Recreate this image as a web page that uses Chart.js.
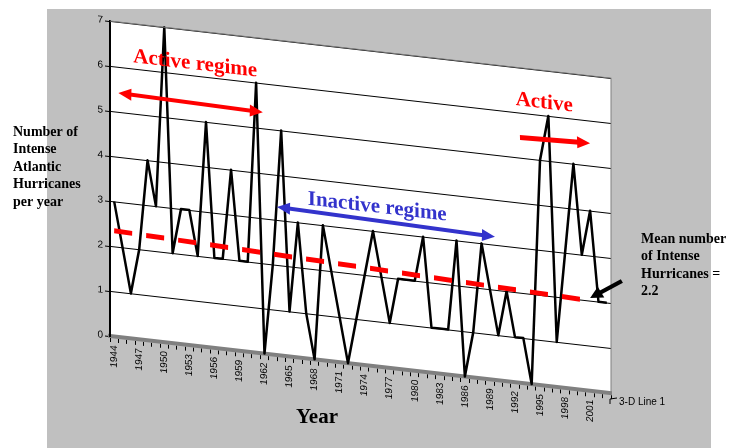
<!DOCTYPE html>
<html>
<head>
<meta charset="utf-8">
<script src="https://cdn.jsdelivr.net/npm/chart.js@4"></script>
<style>
  body { margin: 0; background: #fff; }
  #chart { display: block; }
</style>
</head>
<body>
<canvas id="chart" width="734" height="448"></canvas>
<script>
// data
const years = ['1944','1945','1946','1947','1948','1949','1950','1951','1952','1953',
  '1954','1955','1956','1957','1958','1959','1960','1961','1962','1963',
  '1964','1965','1966','1967','1968','1969','1970','1971','1972','1973',
  '1974','1975','1976','1977','1978','1979','1980','1981','1982','1983',
  '1984','1985','1986','1987','1988','1989','1990','1991','1992','1993',
  '1994','1995','1996','1997','1998','1999','2000','2001','2002','2003'];
const intenseHurricanes = [3,2,1,2,4,3,7,2,3,3, 2,5,2,2,4,2,2,6,0,2,
  5,1,3,1,0,3,2,1,0,1, 2,3,2,1,2,2,2,3,1,1,
  1,3,0,1,3,2,1,2,1,1, 0,5,6,1,3,5,3,4,2,2];
const meanYears = ['1944', '2001'];
const meanValues = [2.35, 2.0];
const yTicks = [0, 1, 2, 3, 4, 5, 6, 7];

// fake 3-D: shear everything in the plot so the right side sits lower
const SHEAR = 0.114;
const X0 = 110;

const serif = '"Liberation Serif", "Times New Roman", serif';
const sans = '"Liberation Sans", Arial, sans-serif';

// annotation placement in (category index, value) space
const notes = [
  { text: 'Active regime', at: [9.7, 6.26], color: '#ff0000', size: 21 },
  { text: 'Inactive regime', at: [31.5, 3.54], color: '#3333cc', size: 21 },
  { text: 'Active', at: [51.5, 6.28], color: '#ff0000', size: 21 }
];
const arrows = [
  { from: [0.5, 5.42], to: [17.8, 5.36], both: true, color: '#ff0000', w: 4 },
  { from: [19.5, 3.29], to: [45.6, 3.18], both: true, color: '#3333cc', w: 4 },
  { from: [48.6, 5.45], to: [57.0, 5.50], both: false, color: '#ff0000', w: 5 },
  { from: [60.8, 2.52], to: [57.0, 2.06], both: false, color: '#000000', w: 4 }
];

function arrowHead(ctx, x1, y1, x2, y2, len, half) {
  const a = Math.atan2(y2 - y1, x2 - x1);
  ctx.beginPath();
  ctx.moveTo(x2, y2);
  ctx.lineTo(x2 - len * Math.cos(a) + half * Math.sin(a), y2 - len * Math.sin(a) - half * Math.cos(a));
  ctx.lineTo(x2 - len * Math.cos(a) - half * Math.sin(a), y2 - len * Math.sin(a) + half * Math.cos(a));
  ctx.closePath();
  ctx.fill();
}

const fake3d = {
  id: 'fake3d',
  beforeDraw(chart) {
    const ctx = chart.ctx;
    const a = chart.chartArea;
    ctx.save();
    ctx.fillStyle = '#c0c0c0';
    ctx.fillRect(47, 9, 664, 439);
    ctx.transform(1, SHEAR, 0, 1, 0, -SHEAR * X0);
    ctx.fillStyle = '#ffffff';
    ctx.fillRect(a.left, a.top, a.right - a.left, a.bottom - a.top);
  },
  afterDraw(chart) {
    const ctx = chart.ctx;
    const a = chart.chartArea;
    const xs = chart.scales.x;
    const ys = chart.scales.y;
    const P = (p) => [xs.getPixelForValue(p[0]), ys.getPixelForValue(p[1])];

    // thin frame of the back wall
    ctx.strokeStyle = '#808080';
    ctx.lineWidth = 1;
    ctx.beginPath();
    ctx.moveTo(a.left, a.top);
    ctx.lineTo(a.right, a.top);
    ctx.lineTo(a.right, a.bottom);
    ctx.stroke();

    // regime labels
    ctx.textAlign = 'center';
    ctx.textBaseline = 'middle';
    notes.forEach(n => {
      const p = P(n.at);
      ctx.font = 'bold ' + n.size + 'px ' + serif;
      ctx.fillStyle = n.color;
      ctx.fillText(n.text, p[0], p[1]);
    });

    // arrows
    arrows.forEach(ar => {
      const f = P(ar.from), t = P(ar.to);
      const a1 = Math.atan2(t[1] - f[1], t[0] - f[0]);
      const inset = 8;
      ctx.strokeStyle = ar.color;
      ctx.fillStyle = ar.color;
      ctx.lineWidth = ar.w;
      ctx.beginPath();
      ctx.moveTo(ar.both ? f[0] + inset * Math.cos(a1) : f[0], ar.both ? f[1] + inset * Math.sin(a1) : f[1]);
      ctx.lineTo(t[0] - inset * Math.cos(a1), t[1] - inset * Math.sin(a1));
      ctx.stroke();
      arrowHead(ctx, f[0], f[1], t[0], t[1], 13, 6);
      if (ar.both) arrowHead(ctx, t[0], t[1], f[0], f[1], 13, 6);
    });
    ctx.restore();

    // flat texts
    ctx.save();
    ctx.fillStyle = '#000';
    ctx.textAlign = 'left';
    ctx.textBaseline = 'middle';
    ctx.font = 'bold 14px ' + serif;
    ['Number of', 'Intense', 'Atlantic', 'Hurricanes', 'per year'].forEach((s, i) => {
      ctx.fillText(s, 13, 132 + i * 17.5);
    });
    ['Mean number', 'of Intense', 'Hurricanes =', '2.2'].forEach((s, i) => {
      ctx.fillText(s, 641, 239 + i * 17.5);
    });
    ctx.font = 'bold 21px ' + serif;
    ctx.textAlign = 'center';
    ctx.fillText('Year', 317, 418);
    ctx.font = '10px ' + sans;
    ctx.textAlign = 'left';
    ctx.fillText('3-D Line 1', 619, 402);
    ctx.strokeStyle = '#000';
    ctx.lineWidth = 1;
    ctx.beginPath();
    ctx.moveTo(617, 398);
    ctx.lineTo(610, 399);
    ctx.lineTo(610, 404);
    ctx.stroke();
    ctx.restore();
  }
};

new Chart(document.getElementById('chart'), {
  type: 'line',
  data: {
    labels: years,
    datasets: [
      {
        label: 'Mean',
        data: meanYears.map((y, i) => ({ x: y, y: meanValues[i] })),
        borderColor: '#ff0000',
        borderWidth: 5,
        borderDash: [18, 14],
        pointRadius: 0,
        spanGaps: true,
        clip: false
      },
      {
        label: '3-D Line 1',
        data: intenseHurricanes,
        borderColor: '#000000',
        borderWidth: 2.5,
        borderJoinStyle: 'round',
        pointRadius: 0,
        tension: 0,
        clip: false
      }
    ]
  },
  options: {
    responsive: false,
    animation: false,
    layout: { padding: { left: 80, right: 123, top: 21, bottom: 0 } },
    plugins: { legend: { display: false }, tooltip: { enabled: false } },
    scales: {
      x: {
        offset: true,
        afterFit(scale) { scale.height = 112; },
        grid: { display: true, drawOnChartArea: false, drawTicks: true, tickLength: 6, tickColor: '#000', offset: true },
        border: { display: true, color: '#808080', width: 4 },
        ticks: {
          autoSkip: false,
          maxRotation: 90,
          minRotation: 90,
          padding: 3,
          color: '#000',
          font: { family: sans, size: 10 },
          callback(val, idx) { return idx % 3 === 0 ? years[idx] : ''; }
        }
      },
      y: {
        min: 0,
        max: 7,
        afterFit(scale) { scale.width = 30; },
        afterBuildTicks(scale) { scale.ticks = yTicks.map(v => ({ value: v })); },
        grid: { color: '#000', lineWidth: 1, tickLength: 5, tickColor: '#000' },
        border: { display: true, color: '#000', width: 2 },
        ticks: { color: '#000', padding: 2, font: { family: sans, size: 10 } }
      }
    }
  },
  plugins: [fake3d]
});
</script>
</body>
</html>
